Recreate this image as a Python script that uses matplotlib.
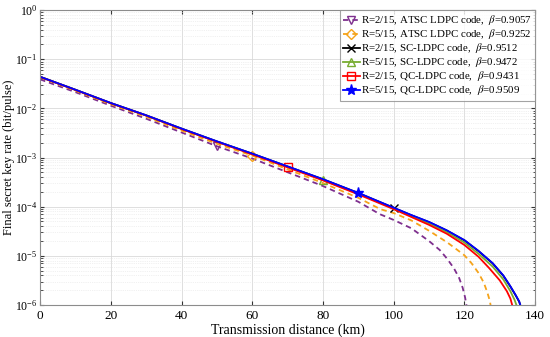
import numpy as np
import matplotlib
matplotlib.use("Agg")
import matplotlib.pyplot as plt

plt.rcParams['font.family'] = ['Liberation Serif', 'DejaVu Serif']
plt.rcParams['mathtext.fontset'] = 'stix'

# ---- data (log10 of key rate) ----
km_purple = [0, 10, 20, 30, 40, 50, 60, 70, 80, 90, 96, 100, 105, 110, 113, 115, 117, 118.5, 119.5, 120.2, 120.8]
lg_purple = [-1.41, -1.67, -1.945, -2.21, -2.49, -2.77, -3.02, -3.30, -3.58, -3.90, -4.15, -4.27, -4.44, -4.70, -4.88, -5.05, -5.25, -5.45, -5.65, -5.85, -6.1]

km_orange = [0, 10, 20, 30, 40, 50, 60, 70, 80, 90, 96.2, 100, 105, 110, 115, 118, 120, 122, 124, 125.5, 126.5, 127.2, 127.6]
lg_orange = [-1.37, -1.64, -1.915, -2.17, -2.45, -2.72, -2.96, -3.24, -3.52, -3.82, -4.05, -4.13, -4.28, -4.49, -4.72, -4.88, -4.99, -5.15, -5.35, -5.55, -5.75, -5.92, -6.1]

km_black = [0, 10, 20, 30, 40, 50, 60, 70, 80, 90, 100, 105, 110, 115, 120, 124, 128, 131, 133, 134.5, 135.5, 136.2]
lg_black = [-1.357, -1.622, -1.893, -2.143, -2.413, -2.673, -2.923, -3.183, -3.443, -3.723, -4.025, -4.175, -4.315, -4.485, -4.685, -4.905, -5.155, -5.405, -5.625, -5.805, -5.935, -6.1]

km_green = [0, 10, 20, 30, 40, 50, 60, 70, 80, 90, 100, 105, 110, 115, 120, 124, 128, 131, 133, 134.2, 135.1]
lg_green = [-1.357, -1.622, -1.892, -2.142, -2.415, -2.675, -2.925, -3.19, -3.455, -3.735, -4.035, -4.19, -4.34, -4.515, -4.73, -4.96, -5.22, -5.48, -5.72, -5.9, -6.08]

km_red = [0, 10, 20, 30, 40, 50, 60, 70, 80, 90, 100, 105, 110, 115, 120, 124, 127, 130, 132, 133, 133.7]
lg_red = [-1.36, -1.625, -1.895, -2.145, -2.42, -2.68, -2.935, -3.20, -3.465, -3.75, -4.05, -4.21, -4.37, -4.55, -4.78, -5.02, -5.25, -5.5, -5.72, -5.87, -6.05]

km_blue = [0, 10, 20, 30, 40, 50, 60, 70, 80, 90, 100, 105, 110, 115, 120, 124, 128, 131, 133, 134.5, 135.5, 136.2]
lg_blue = [-1.356, -1.62, -1.89, -2.14, -2.41, -2.67, -2.92, -3.18, -3.44, -3.72, -4.02, -4.17, -4.31, -4.48, -4.68, -4.90, -5.15, -5.40, -5.62, -5.80, -5.93, -6.1]

labels = [
    r"R=2/15, ATSC LDPC code,  $\beta$=0.9057",
    r"R=5/15, ATSC LDPC code,  $\beta$=0.9252",
    r"R=2/15, SC-LDPC code,  $\beta$=0.9512",
    r"R=5/15, SC-LDPC code,  $\beta$=0.9472",
    r"R=2/15, QC-LDPC code,  $\beta$=0.9431",
    r"R=5/15, QC-LDPC code,  $\beta$=0.9509",
]
marker_km = [50, 60, 100, 80, 70, 90]

x_ticks = [0, 20, 40, 60, 80, 100, 120, 140]

series = [
    (km_purple, lg_purple, '#7E2F8E', 'v', 'dashed', 'none'),
    (km_orange, lg_orange, '#F5A31A', 'D', 'dashed', 'none'),
    (km_black, lg_black, 'black', 'x', 'solid', 'none'),
    (km_green, lg_green, '#77AC30', '^', 'solid', 'none'),
    (km_red, lg_red, '#FF0000', 's', 'solid', 'none'),
    (km_blue, lg_blue, '#0000FF', '*', 'solid', 'fill'),
]

fig = plt.figure(figsize=(5.5, 3.37), dpi=100)
ax = fig.add_axes([0.073, 0.095, 0.9, 0.875])

for (km, lg, col, mk, ls, fill), lab, mkm in zip(series, labels, marker_km):
    km = np.asarray(km, float)
    vals = 10.0 ** np.asarray(lg, float)
    idx = int(np.argmin(np.abs(km - mkm)))
    kw = dict(color=col, lw=1.3, marker=mk, markevery=[idx], label=lab,
              markersize=6 if mk != '*' else 8, markeredgewidth=1.0)
    if fill == 'none':
        kw['markerfacecolor'] = 'none'
    else:
        kw['markerfacecolor'] = col
    if mk == 'D':
        kw['markersize'] = 5
    if ls == 'dashed':
        kw['dashes'] = (3, 2.2)
    ax.plot(km, vals, **kw)

ax.set_yscale('log')
ax.set_xlim(0, 140)
ax.set_ylim(1e-6, 1e0)
ax.set_xticks(x_ticks)
ax.set_yticks([1e-6, 1e-5, 1e-4, 1e-3, 1e-2, 1e-1, 1e0])
ax.tick_params(which='both', direction='in', top=True, right=True,
               colors='#333333', labelcolor='black')
ax.tick_params(axis='x', labelsize=9.5)
ax.tick_params(axis='y', labelsize=8.5, pad=2)
ax.tick_params(which='major', length=3)
ax.tick_params(which='minor', length=1.8)
ax.grid(True, which='major', color='#d9d9d9', lw=0.6)
ax.grid(True, which='minor', axis='y', color='#e3e3e3', lw=0.5, ls=':')
ax.set_axisbelow(True)
for s in ax.spines.values():
    s.set_color('#8c8c8c')
    s.set_linewidth(0.8)

ax.set_xlabel('Transmission distance (km)', fontsize=10, labelpad=1)
ax.set_ylabel('Final secret key rate (bit/pulse)', fontsize=9)
ax.yaxis.set_label_coords(-0.05, 0.5)

leg = ax.legend(loc='upper right', fontsize=7.8, frameon=True, fancybox=False,
                edgecolor='#8c8c8c', handlelength=1.5, handletextpad=0.15,
                labelspacing=0.0, borderpad=0.3, borderaxespad=0.0)
leg.get_frame().set_linewidth(0.8)

fig.savefig('out.png', dpi=100)
